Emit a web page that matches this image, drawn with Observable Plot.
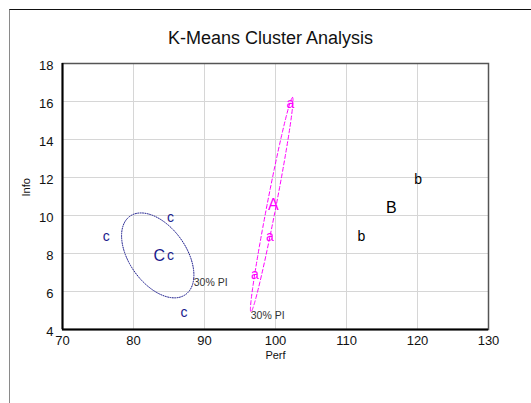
<!DOCTYPE html>
<html><head><meta charset="utf-8">
<script src="https://cdn.jsdelivr.net/npm/d3@7"></script>
<script src="https://cdn.jsdelivr.net/npm/@observablehq/plot@0.6"></script>
<style>
body{margin:0;background:#fff;}
#wrap{position:relative;width:531px;height:403px;overflow:hidden;font-family:Arial,"Liberation Sans",sans-serif;}
#border{position:absolute;left:9px;top:9px;width:540px;height:420px;border-top:1.5px solid #111;border-left:1px solid #8a8a8a;}
#chart{position:absolute;left:0;top:0;}
#title{position:absolute;left:0;width:541px;top:28px;text-align:center;font-size:18px;color:#111;}
</style></head>
<body><div id="wrap"><div id="border"></div><div id="chart"></div><div id="title">K-Means Cluster Analysis</div></div>
<script>
// Observations (Perf, Info) and their cluster membership
const perf    = [102.1, 99.2, 97.1, 120.1, 112.1, 76.15, 85.2, 85.2, 87.1];
const info    = [15.9, 8.9, 6.9, 11.9, 8.9, 8.9, 9.9, 7.9, 4.9];
const cluster = ["a", "a", "a", "b", "b", "c", "c", "c", "c"];
const clusterNames  = ["a", "b", "c"];
const clusterColors = ["#ff00ff", "#000000", "#1a1a8c"];
const ellipseDash   = {a: "4,2.5", c: "1,1.4"};
const xTicks = [70, 80, 90, 100, 110, 120, 130];
const yTicks = [4, 6, 8, 10, 12, 14, 16, 18];
const piLevel = 0.3;
const piLabel = "30% PI";

const data = perf.map((p, i) => ({perf: p, info: info[i], cluster: cluster[i]}));
const groups = d3.group(data, d => d.cluster);

// centroids
const centroids = clusterNames.map(c => {
  const g = groups.get(c);
  return {cluster: c, label: c.toUpperCase(), perf: d3.mean(g, d => d.perf), info: d3.mean(g, d => d.info)};
});

// prediction-interval ellipses (clusters with at least 3 members)
const ellipsePts = [];
const piLabels = [];
for (const c of clusterNames) {
  const g = groups.get(c);
  const n = g.length;
  if (n < 3) continue;
  const mx = d3.mean(g, d => d.perf), my = d3.mean(g, d => d.info);
  let sxx = 0, syy = 0, sxy = 0;
  for (const d of g) { const dx = d.perf - mx, dy = d.info - my; sxx += dx*dx; syy += dy*dy; sxy += dx*dy; }
  sxx /= n - 1; syy /= n - 1; sxy /= n - 1;
  const k = Math.sqrt(-2 * Math.log(1 - piLevel) * (n - 1) / (n - 2));
  const tr = sxx + syy, det = sxx*syy - sxy*sxy;
  const disc = Math.sqrt(Math.max(0, tr*tr/4 - det));
  const l1 = tr/2 + disc, l2 = Math.max(0, tr/2 - disc);
  let v1x = 1, v1y = 0;
  if (Math.abs(sxy) > 1e-12) { v1x = l1 - syy; v1y = sxy; const L = Math.hypot(v1x, v1y); v1x /= L; v1y /= L; }
  const v2x = -v1y, v2y = v1x;
  const a = k * Math.sqrt(l1), b = k * Math.sqrt(l2);
  for (let i = 0; i <= 240; i++) {
    const t = 2 * Math.PI * i / 240;
    ellipsePts.push({cluster: c, perf: mx + a*Math.cos(t)*v1x + b*Math.sin(t)*v2x, info: my + a*Math.cos(t)*v1y + b*Math.sin(t)*v2y});
  }
  const e1 = {perf: mx + a*v1x, info: my + a*v1y}, e2 = {perf: mx - a*v1x, info: my - a*v1y};
  const end = e1.info < e2.info ? e1 : e2;
  piLabels.push({cluster: c, perf: end.perf, info: end.info, text: piLabel});
}

const font = 'Arial, "Liberation Sans", sans-serif';
const chart = Plot.plot({
  width: 531, height: 403,
  marginLeft: 62, marginRight: 43, marginTop: 63, marginBottom: 74,
  x: {domain: [70, 130]},
  y: {domain: [4, 18]},
  color: {domain: clusterNames, range: clusterColors},
  style: {fontFamily: font, fontSize: "13px", background: "transparent", color: "#111"},
  marks: [
    Plot.gridX(xTicks.slice(1, -1), {stroke: "#d6d6d6", strokeOpacity: 1}),
    Plot.gridY(yTicks.slice(1, -1), {stroke: "#d6d6d6", strokeOpacity: 1}),
    Plot.frame({stroke: "#555", strokeWidth: 1.5}),
    Plot.ruleX([70], {stroke: "#000", strokeWidth: 2}),
    Plot.ruleY([4], {stroke: "#000", strokeWidth: 2}),
    Plot.axisX(xTicks, {tickSize: 0, tickPadding: 6, label: null, fontSize: 13}),
    Plot.axisY(yTicks, {tickSize: 0, tickPadding: 9, label: null, fontSize: 13, dy: 2}),
    Plot.text(["Perf"], {frameAnchor: "bottom", dy: 29, fontSize: 11}),
    Plot.text(["Info"], {frameAnchor: "left", dx: -36, rotate: -90, fontSize: 11}),
    ...clusterNames.filter(c => ellipseDash[c] && ellipsePts.some(p => p.cluster === c)).map(c =>
      Plot.line(ellipsePts.filter(p => p.cluster === c), {x: "perf", y: "info", stroke: "cluster", strokeWidth: 1, strokeDasharray: ellipseDash[c]})
    ),
    Plot.text(piLabels, {x: "perf", y: "info", text: "text", textAnchor: "start", lineAnchor: "top", fontSize: 10.5, fill: "#333"}),
    Plot.text(data, {x: "perf", y: "info", text: "cluster", fill: "cluster", fontSize: 14}),
    Plot.text(centroids, {x: "perf", y: "info", text: "label", fill: "cluster", fontSize: 16, dx: 1.5})
  ]
});
document.getElementById("chart").appendChild(chart);
</script>
</body></html>
